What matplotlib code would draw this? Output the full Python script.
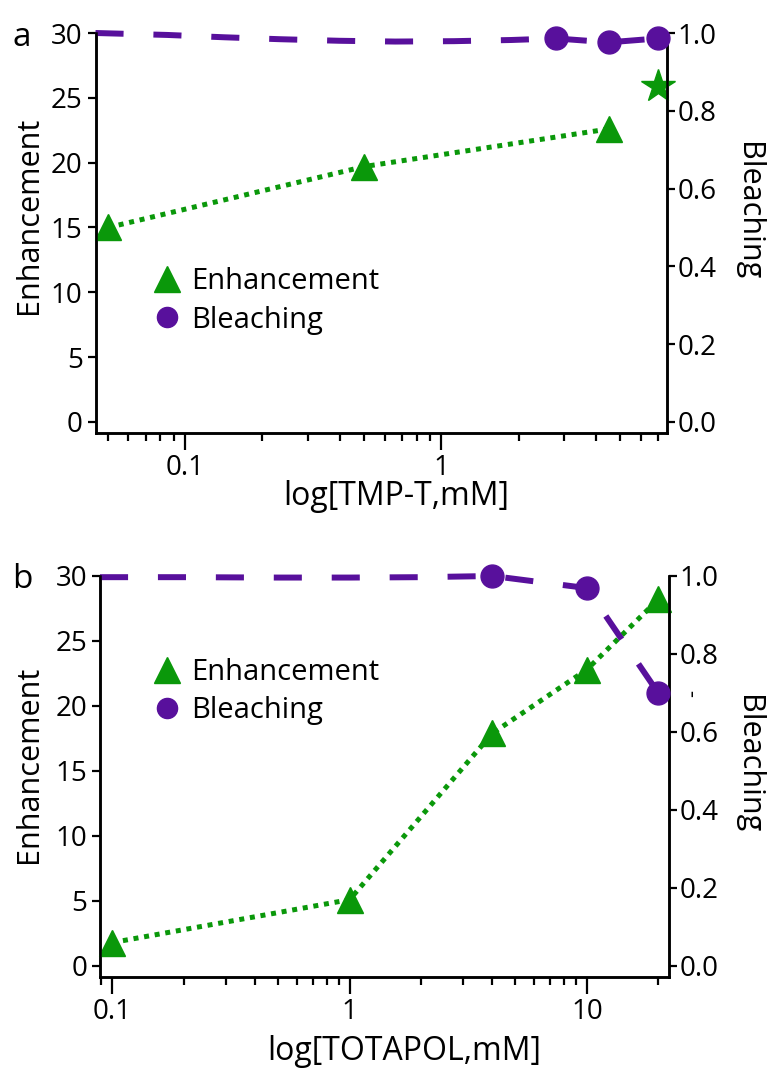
import matplotlib
matplotlib.use("Agg")
import matplotlib.pyplot as plt
import matplotlib.transforms as mtransforms
from matplotlib.lines import Line2D
from matplotlib.ticker import LogLocator, FixedLocator, FuncFormatter, NullFormatter

plt.rcParams['font.family'] = ['Open Sans', 'DejaVu Sans']

GREEN = "#0a980a"
PURPLE = "#58109c"

# ---------------- data: panel a (TMP-T) ----------------
a_enh_x = [0.05, 0.5, 4.5]
a_enh_y = [15.0, 19.7, 22.6]
a_star_x = [7.0]
a_star_y = [25.9]
a_bl_x = [2.8, 4.5, 7.0]
a_bl_y = [0.986, 0.976, 0.986]
a_fit_x = [0.0446, 0.085, 0.142, 0.235, 0.40, 0.66, 1.12, 1.87, 2.8, 4.5, 7.0]
a_fit_y = [1.0, 0.995, 0.989, 0.984, 0.980, 0.978, 0.979, 0.982, 0.986, 0.976, 0.986]

# ---------------- data: panel b (TOTAPOL) ----------------
b_enh_x = [0.1, 1.0, 4.0, 10.0, 20.0]
b_enh_y = [1.8, 5.1, 17.9, 22.8, 28.2]
b_bl_x = [4.0, 10.0, 20.0]
b_bl_y = [1.0, 0.969, 0.70]
b_fit_x = [0.0887, 0.2, 0.5, 1.0, 2.0, 4.0, 10.0, 20.0]
b_fit_y = [0.997, 0.997, 0.996, 0.996, 0.997, 1.0, 0.969, 0.70]

left_ticks = [0, 5, 10, 15, 20, 25, 30]
right_ticks = [0.0, 0.2, 0.4, 0.6, 0.8, 1.0]

W, H = 768, 1068
fig = plt.figure(figsize=(W / 100, H / 100), dpi=100)

TICK_FS = 20
LAB_FS = 22
XLAB_FS = 23
LEG_FS = 21


def style_axes(ax, ax2, xlim, major_labels):
    ax.set_xscale('log')
    ax.set_xlim(*xlim)
    ax.set_ylim(-0.85, 30)
    ax2.set_ylim(-0.85 / 30, 1.0)
    for a_ in (ax, ax2):
        a_.spines['top'].set_visible(False)
        for s in ('left', 'right', 'bottom'):
            a_.spines[s].set_linewidth(1.8)
    ax.xaxis.set_major_locator(FixedLocator(major_labels))
    ax.xaxis.set_major_formatter(FuncFormatter(lambda v, p: ('%g' % v)))
    ax.xaxis.set_minor_locator(LogLocator(base=10, subs=[2, 3, 4, 5, 6, 7, 8, 9], numticks=20))
    ax.xaxis.set_minor_formatter(NullFormatter())
    ax.tick_params(axis='x', which='major', direction='out', length=12, width=1.6,
                   labelsize=TICK_FS, pad=3)
    ax.tick_params(axis='x', which='minor', direction='out', length=5.8, width=1.6)
    ax.set_yticks(left_ticks)
    ax.set_yticklabels([str(t) for t in left_ticks])
    ax.tick_params(axis='y', direction='out', length=5.8, width=1.6, labelsize=TICK_FS, pad=3.5)
    ax2.set_yticks(right_ticks)
    ax2.set_yticklabels(['%.1f' % t for t in right_ticks])
    ax2.tick_params(axis='y', direction='out', length=5.8, width=1.6, labelsize=TICK_FS, pad=1.5)


def draw_panel(rect, xlim, majors, enh_x, enh_y, bl_x, bl_y, fit_x, fit_y,
               star_x=None, star_y=None):
    ax = fig.add_axes(rect)
    ax2 = ax.twinx()
    style_axes(ax, ax2, xlim, majors)
    ax.plot(enh_x, enh_y, color=GREEN, lw=3.6, linestyle=(0, (1, 1.15)),
            marker='^', ms=19, mec=GREEN, mfc=GREEN, clip_on=False, zorder=3)
    if star_x is not None:
        ax.plot(star_x, star_y, linestyle='none', marker='*', ms=25,
                color=GREEN, clip_on=False, zorder=3)
    ax2.plot(fit_x, fit_y, color=PURPLE, lw=4.3, linestyle=(0, (4.7, 5.0)),
             clip_on=False, zorder=2)
    ax2.plot(bl_x, bl_y, linestyle='none', marker='o', ms=16.5, color=PURPLE,
             clip_on=False, zorder=3)
    return ax, ax2


# panel a
ax_a, ax_a2 = draw_panel([95.5 / W, 1 - 433 / H, 571.5 / W, 400 / H], (0.0446, 7.6), [0.1, 1],
                         a_enh_x, a_enh_y, a_bl_x, a_bl_y, a_fit_x, a_fit_y,
                         a_star_x, a_star_y)
# panel b
ax_b, ax_b2 = draw_panel([100 / W, 1 - 977 / H, 569 / W, 401 / H], (0.0887, 22.2), [0.1, 1, 10],
                         b_enh_x, b_enh_y, b_bl_x, b_bl_y, b_fit_x, b_fit_y)

# labels
for ax, ax2, xl, xlc, ylc, rlc in (
        (ax_a, ax_a2, 'log[TMP-T,mM]', (0.526, -0.158), (-0.1155, 0.545), (1.142, 0.555)),
        (ax_b, ax_b2, 'log[TOTAPOL,mM]', (0.534, -0.185), (-0.124, 0.531), (1.139, 0.531))):
    ax.set_xlabel(xl, fontsize=XLAB_FS, va='center')
    ax.xaxis.set_label_coords(*xlc)
    ax.set_ylabel('Enhancement', fontsize=LAB_FS, va='center')
    ax.yaxis.set_label_coords(*ylc)
    ax2.set_ylabel('Bleaching', fontsize=LAB_FS, rotation=270, va='center')
    ax2.yaxis.set_label_coords(*rlc)

# legends
def add_legend(ax2, anchor):
    handles = [Line2D([], [], linestyle='none', marker='^', ms=19, color=GREEN),
               Line2D([], [], linestyle='none', marker='o', ms=14.5, color=PURPLE)]
    ax2.legend(handles, ['Enhancement', 'Bleaching'], loc='center left',
               bbox_to_anchor=anchor, frameon=False, fontsize=LEG_FS,
               handlelength=1.0, handletextpad=0.33, labelspacing=0.31,
               borderpad=0, borderaxespad=0)

add_legend(ax_a2, (0.0989, 0.33))
add_legend(ax_b2, (0.0914, 0.712))

# panel letters
for ax, letter in ((ax_a, 'a'), (ax_b, 'b')):
    tr = mtransforms.blended_transform_factory(fig.transFigure, ax.transData)
    ax.text(12 / W, 30, letter, transform=tr, fontsize=24, ha='left', va='center_baseline')

# stray mark near right axis of panel b
ax_b2.text(1.042, 0.70, '-', transform=mtransforms.blended_transform_factory(ax_b2.transAxes, ax_b2.transData),
           rotation=90, fontsize=16, ha='center', va='center')

fig.savefig('out.png', dpi=100)
